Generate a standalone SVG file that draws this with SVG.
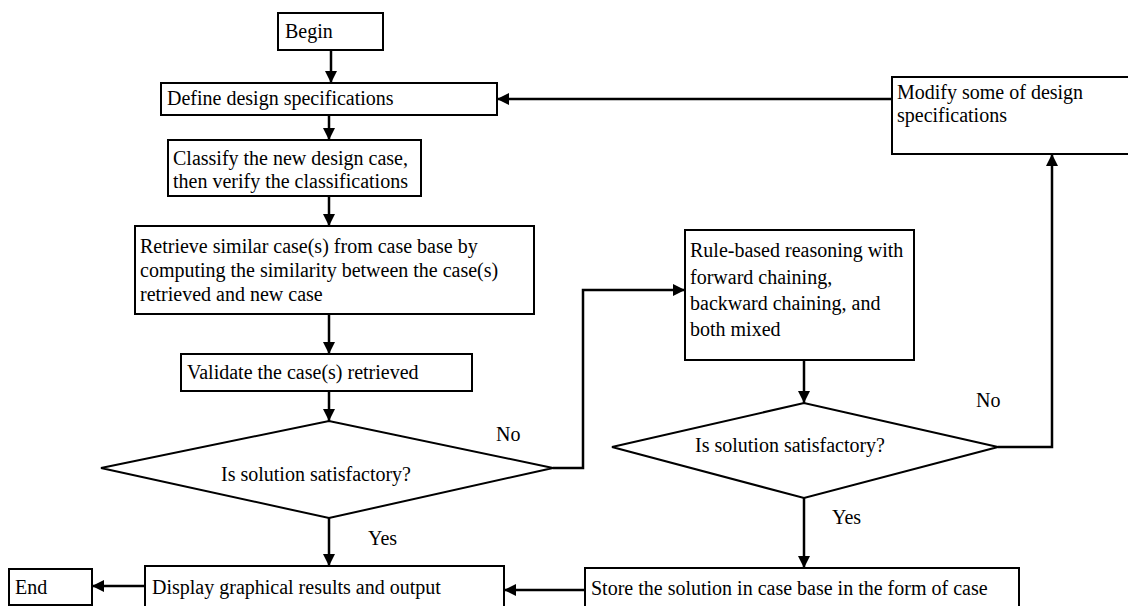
<svg xmlns="http://www.w3.org/2000/svg" width="1128" height="606" viewBox="0 0 1128 606">
<defs>
<marker id="ah" markerUnits="userSpaceOnUse" markerWidth="12" markerHeight="12" refX="12" refY="6" orient="auto">
<path d="M0,0 L12,6 L0,12 z" fill="#000"/>
</marker>
<style>
.box{fill:#fff;stroke:#000;stroke-width:2}
.t{font-family:"Liberation Serif","Times New Roman",serif;font-size:20px;fill:#000}
.c{fill:none;stroke:#000;stroke-width:2.5}
</style>
</defs>
<rect width="1128" height="606" fill="#fff"/>
<g id="connectors">
<line class="c" x1="331" y1="50" x2="331" y2="83" marker-end="url(#ah)"/>
<line class="c" x1="329" y1="115" x2="329" y2="140" marker-end="url(#ah)"/>
<line class="c" x1="329" y1="196" x2="329" y2="226" marker-end="url(#ah)"/>
<line class="c" x1="329" y1="314" x2="329" y2="354" marker-end="url(#ah)"/>
<line class="c" x1="329" y1="391" x2="329" y2="421" marker-end="url(#ah)"/>
<line class="c" x1="329" y1="518" x2="329" y2="566" marker-end="url(#ah)"/>
<polyline class="c" points="553,468 583,468 583,290 685,290" marker-end="url(#ah)"/>
<line class="c" x1="804" y1="360" x2="804" y2="403" marker-end="url(#ah)"/>
<line class="c" x1="804" y1="498" x2="804" y2="568" marker-end="url(#ah)"/>
<polyline class="c" points="998,447 1052,447 1052,154" marker-end="url(#ah)"/>
<line class="c" x1="892" y1="99" x2="497" y2="99" marker-end="url(#ah)"/>
<line class="c" x1="585" y1="590" x2="504" y2="590" marker-end="url(#ah)"/>
<line class="c" x1="145" y1="586" x2="92" y2="586" marker-end="url(#ah)"/>
</g>
<g id="begin">
<rect class="box" x="278" y="13" width="105" height="37"/>
<text class="t" x="285" y="38">Begin</text>
</g>
<g id="define">
<rect class="box" x="161" y="83" width="336" height="32"/>
<text class="t" x="167" y="105">Define design specifications</text>
</g>
<g id="modify">
<rect class="box" x="892" y="77" width="260" height="77"/>
<text class="t" x="897" y="99">Modify some of design</text>
<text class="t" x="897" y="122">specifications</text>
</g>
<g id="classify">
<rect class="box" x="168" y="140" width="253" height="56"/>
<text class="t" x="173" y="165">Classify the new design case,</text>
<text class="t" x="173" y="188">then verify the classifications</text>
</g>
<g id="retrieve">
<rect class="box" x="135" y="226" width="399" height="88"/>
<text class="t" x="140" y="253">Retrieve similar case(s) from case base by</text>
<text class="t" x="140" y="277">computing the similarity between the case(s)</text>
<text class="t" x="140" y="301">retrieved and new case</text>
</g>
<g id="validate">
<rect class="box" x="181" y="354" width="291" height="37"/>
<text class="t" x="187" y="379">Validate the case(s) retrieved</text>
</g>
<g id="decision1">
<polygon class="box" points="101,468 329,421 553,468 329,518"/>
<text class="t" x="316" y="481" text-anchor="middle">Is solution satisfactory?</text>
<text class="t" x="496" y="441">No</text>
<text class="t" x="368" y="545">Yes</text>
</g>
<g id="rule">
<rect class="box" x="685" y="230" width="229" height="130"/>
<text class="t" x="690" y="257">Rule-based reasoning with</text>
<text class="t" x="690" y="284">forward chaining,</text>
<text class="t" x="690" y="310">backward chaining, and</text>
<text class="t" x="690" y="336">both mixed</text>
</g>
<g id="decision2">
<polygon class="box" points="612,447 804,403 998,447 804,498"/>
<text class="t" x="790" y="452" text-anchor="middle">Is solution satisfactory?</text>
<text class="t" x="976" y="407">No</text>
<text class="t" x="832" y="524">Yes</text>
</g>
<g id="display">
<rect class="box" x="145" y="566" width="359" height="60"/>
<text class="t" x="152" y="594">Display graphical results and output</text>
</g>
<g id="store">
<rect class="box" x="585" y="568" width="434" height="60"/>
<text class="t" x="591" y="595">Store the solution in case base in the form of case</text>
</g>
<g id="end">
<rect class="box" x="9" y="569" width="83" height="36"/>
<text class="t" x="15" y="594">End</text>
</g>
</svg>
